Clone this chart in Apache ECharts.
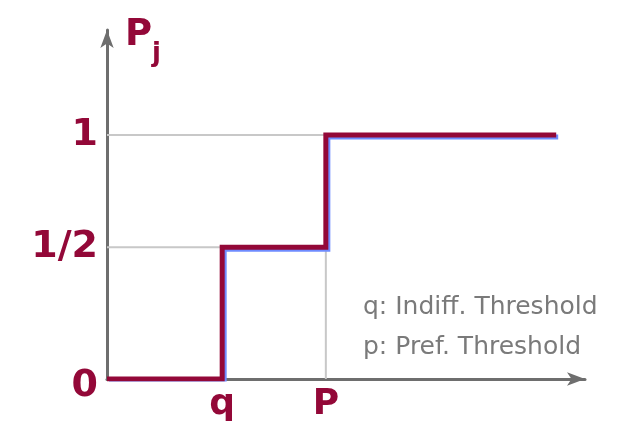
<!DOCTYPE html>
<html>
<head>
<meta charset="utf-8">
<script src="https://cdn.jsdelivr.net/npm/echarts@6/dist/echarts.min.js"></script>
<style>
  html,body{margin:0;padding:0;background:#fff;}
  #main{width:636px;height:425px;}
</style>
</head>
<body>
<div id="main"></div>
<script>
// step levels
var xThresholds = [2, 3.8];          // q, p
var xTickLabels = ['q', 'P'];
var yLevels = [0, 0.54, 1];
var yTickLabels = ['0', '1/2', '1'];
var xEnd = 7.8;

var stepX = [0, xThresholds[0], xThresholds[1], xEnd];
var stepY = [yLevels[0], yLevels[1], yLevels[2]];

var maroon = '#930838';

var stepData = [
  [stepX[0], stepY[0]], [stepX[1], stepY[0]],
  [stepX[1], stepY[1]], [stepX[2], stepY[1]],
  [stepX[2], stepY[2]], [stepX[3], stepY[2]]
];

var chart = echarts.init(document.getElementById('main'));
var option = {
  animation: false,
  backgroundColor: '#fff',
  title: {
    text: '{p|P}{j|j}',
    left: 120,
    top: -2,
    textStyle: {
      rich: {
        p: {fontFamily: 'DejaVu Sans', fontWeight: 'bold', fontSize: 37, color: maroon},
        j: {fontFamily: 'DejaVu Sans', fontWeight: 'bold', fontSize: 26, color: maroon, padding: [38, 0, 0, 0]}
      }
    }
  },
  graphic: [{
    type: 'text',
    left: 363,
    top: 287,
    style: {
      text: 'q: Indiff. Threshold\np: Pref. Threshold',
      font: '25px "DejaVu Sans"',
      fill: '#7a7a7a',
      lineHeight: 40
    }
  }],
  grid: {left: 107, right: 51, top: 30, bottom: 46},
  xAxis: {
    type: 'value',
    min: 0,
    max: 8.3,
    axisLine: {
      show: true,
      symbol: ['none', 'arrow'],
      symbolSize: [10, 18],
      lineStyle: {color: '#6e6e6e', width: 3}
    },
    axisTick: {show: false},
    splitLine: {show: false},
    axisLabel: {
      customValues: xThresholds,
      formatter: function (v) {
        return xTickLabels[xThresholds.indexOf(v)];
      },
      margin: 8,
      fontFamily: 'DejaVu Sans',
      fontWeight: 'bold',
      fontSize: 36,
      color: maroon
    }
  },
  yAxis: {
    type: 'value',
    min: 0,
    max: 1.43,
    axisLine: {
      show: true,
      symbol: ['none', 'arrow'],
      symbolSize: [10, 18],
      lineStyle: {color: '#6e6e6e', width: 3}
    },
    axisTick: {show: false},
    splitLine: {show: false},
    axisLabel: {
      customValues: yLevels,
      formatter: function (v) {
        var s = yTickLabels[yLevels.indexOf(v)];
        return v === 0 ? '{z|' + s + '}' : s;
      },
      margin: 9,
      fontFamily: 'DejaVu Sans',
      fontWeight: 'bold',
      fontSize: 38,
      color: maroon,
      rich: {
        z: {fontFamily: 'DejaVu Sans', fontWeight: 'bold', fontSize: 38, color: maroon, padding: [14, 0, 0, 0]}
      }
    }
  },
  series: [
    {
      name: 'guide',
      type: 'line',
      symbol: 'none',
      silent: true,
      lineStyle: {color: '#c8c8c8', width: 2},
      data: [
        [0, stepY[2]], [stepX[2], stepY[2]], null,
        [0, stepY[1]], [stepX[1], stepY[1]], null,
        [stepX[2], stepY[0]], [stepX[2], stepY[1]]
      ],
      connectNulls: false,
      z: 1
    },
    {
      name: 'Pj',
      type: 'line',
      symbol: 'none',
      data: stepData,
      lineStyle: {
        color: maroon,
        width: 5,
        cap: 'butt',
        join: 'miter',
        shadowColor: '#6f8cff',
        shadowBlur: 0,
        shadowOffsetX: 2,
        shadowOffsetY: 2
      },
      z: 3
    }
  ]
};
chart.setOption(option);
</script>
</body>
</html>
